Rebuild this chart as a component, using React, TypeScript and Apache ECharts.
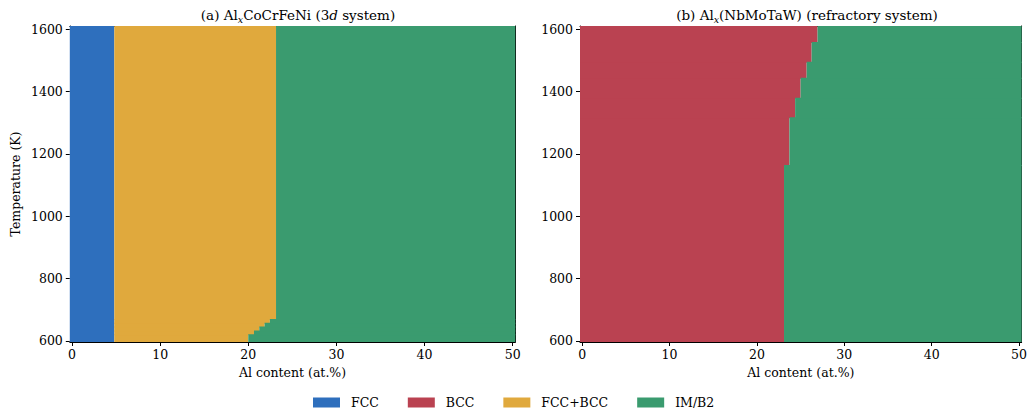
import React, { useEffect, useRef } from "react";
import * as echarts from "echarts";

// ---- data ----
const phases = ["FCC", "BCC", "FCC+BCC", "IM/B2"];
const phaseColors = ["#2E6FBD", "#BA4251", "#E0A93D", "#3A9B6F"];

// Composition and temperature cell edges
const AL_MIN = -0.25;
const AL_MAX = 50.3;
const T_MIN = 596;
const T_MAX = 1610;

// (a) AlxCoCrFeNi: FCC / FCC+BCC boundary (constant), FCC+BCC / IM boundary per temperature band
const leftFccLimit = 4.8;
const leftBandLowerT = [596, 621, 633, 646, 658, 670];
const leftBandBoundary = [20.0, 20.65, 21.25, 21.85, 22.45, 23.15];

// (b) Alx(NbMoTaW): BCC / IM boundary per temperature band
const rightBandLowerT = [596, 1164, 1317, 1380, 1444, 1495, 1559];
const rightBandBoundary = [23.1, 23.72, 24.37, 25.0, 25.69, 26.26, 26.94];

const xTicks = [0, 10, 20, 30, 40, 50];
const yTicks = [600, 800, 1000, 1200, 1400, 1600];

function bands(lowers: number[], bounds: number[]) {
  return lowers.map((lo, i) => ({
    lo,
    hi: i + 1 < lowers.length ? lowers[i + 1] : T_MAX,
    x: bounds[i],
  }));
}

const FONT = "DejaVu Serif";
const TICK_SIZE = 12.5;
const TITLE_SIZE = 13.5;

export default function App() {
  const ref = useRef<HTMLDivElement>(null);
  useEffect(() => {
    if (!ref.current) return;
    const chart = echarts.init(ref.current, null, { renderer: "svg" });

    const lb = bands(leftBandLowerT, leftBandBoundary);
    const rb = bands(rightBandLowerT, rightBandBoundary);

    const leftFcc = [[AL_MIN, leftFccLimit, T_MIN, T_MAX]];
    const leftMix = lb.map((b) => [leftFccLimit, b.x, b.lo, b.hi]);
    const leftIm = lb.map((b) => [b.x, AL_MAX, b.lo, b.hi]);
    const rightBcc = rb.map((b) => [AL_MIN, b.x, b.lo, b.hi]);
    const rightIm = rb.map((b) => [b.x, AL_MAX, b.lo, b.hi]);

    const renderItem = (params: any, api: any) => {
      const p0 = api.coord([api.value(0), api.value(3)]);
      const p1 = api.coord([api.value(1), api.value(2)]);
      const color = api.visual("color");
      // extend 1px downward so stacked bands of the same phase leave no seam
      return {
        type: "rect",
        shape: { x: p0[0], y: p0[1], width: p1[0] - p0[0], height: p1[1] - p0[1] + 1 },
        style: { fill: color, stroke: "none" },
      };
    };

    const mkSeries = (name: string, data: number[][], idx: number) => ({
      type: "custom",
      name,
      xAxisIndex: idx,
      yAxisIndex: idx,
      data,
      renderItem,
      clip: true,
      color: phaseColors[phases.indexOf(name)],
      itemStyle: { color: phaseColors[phases.indexOf(name)] },
      encode: { x: [0, 1], y: [2, 3] },
    });

    const axisText = { color: "#000", fontFamily: FONT, fontSize: TICK_SIZE };
    const plain = (v: number) => String(v);

    const mainX = (gridIndex: number) => ({
      type: "value",
      gridIndex,
      min: AL_MIN,
      max: AL_MAX,
      name: "Al content (at.%)",
      nameLocation: "middle",
      nameGap: 24,
      nameTextStyle: { ...axisText },
      axisLine: { show: true, onZero: false, lineStyle: { color: "#000", width: 1 } },
      axisTick: { show: true, length: 4, customValues: xTicks, lineStyle: { color: "#000" } },
      axisLabel: { ...axisText, margin: 6, customValues: xTicks, formatter: plain },
      splitLine: { show: false },
    });
    const mainY = (gridIndex: number, named: boolean) => ({
      type: "value",
      gridIndex,
      min: T_MIN,
      max: T_MAX,
      name: named ? "Temperature (K)" : "",
      nameLocation: "middle",
      nameGap: 48,
      nameTextStyle: { ...axisText },
      axisLine: { show: true, onZero: false, lineStyle: { color: "#000", width: 1 } },
      axisTick: { show: true, length: 4, customValues: yTicks, lineStyle: { color: "#000" } },
      axisLabel: { ...axisText, margin: 7, customValues: yTicks, formatter: plain },
      splitLine: { show: false },
    });
    const frameX = (gridIndex: number) => ({
      type: "value",
      gridIndex,
      position: "top",
      min: AL_MIN,
      max: AL_MAX,
      axisLine: { show: true, onZero: false, lineStyle: { color: "#000", width: 1 } },
      axisTick: { show: false },
      axisLabel: { show: false },
      splitLine: { show: false },
    });
    const frameY = (gridIndex: number) => ({
      type: "value",
      gridIndex,
      position: "right",
      min: T_MIN,
      max: T_MAX,
      axisLine: { show: true, onZero: false, lineStyle: { color: "#000", width: 1 } },
      axisTick: { show: false },
      axisLabel: { show: false },
      splitLine: { show: false },
    });

    const titleRich = {
      sub: { fontFamily: FONT, fontSize: 9.5, fontStyle: "italic", color: "#000", padding: [8, 0, 0, 0] },
      it: { fontFamily: FONT, fontSize: TITLE_SIZE, fontStyle: "italic", color: "#000" },
    };
    const titleStyle = {
      fontFamily: FONT,
      fontSize: TITLE_SIZE,
      fontWeight: "normal",
      color: "#000",
      rich: titleRich,
    };

    chart.setOption({
      animation: false,
      textStyle: { fontFamily: FONT },
      title: [
        {
          text: "(a) Al{sub|x}CoCrFeNi (3{it|d} system)",
          left: 293,
          top: 1,
          textAlign: "center",
          textStyle: titleStyle,
        },
        {
          text: "(b) Al{sub|x}(NbMoTaW) (refractory system)",
          left: 802,
          top: 1,
          textAlign: "center",
          textStyle: titleStyle,
        },
      ],
      legend: {
        data: phases,
        left: 308,
        top: 391,
        icon: "rect",
        itemWidth: 27,
        itemHeight: 10,
        itemGap: 29,
        textStyle: { fontFamily: FONT, fontSize: TICK_SIZE, color: "#000", padding: [0, 0, 0, 6] },
        selectedMode: false,
      },
      grid: [
        { left: 69.8, top: 26, width: 445.5, height: 316 },
        { left: 580, top: 26, width: 445.5, height: 316 },
      ],
      xAxis: [mainX(0), mainX(1), frameX(0), frameX(1)],
      yAxis: [mainY(0, true), mainY(1, false), frameY(0), frameY(1)],
      series: [
        mkSeries("FCC", leftFcc, 0),
        mkSeries("FCC+BCC", leftMix, 0),
        mkSeries("IM/B2", leftIm, 0),
        mkSeries("BCC", rightBcc, 1),
        mkSeries("IM/B2", rightIm, 1),
      ],
    });
    return () => chart.dispose();
  }, []);
  return (
    <div
      ref={ref}
      style={{ position: "fixed", left: 0, top: 0, width: 1030, height: 409, background: "#fff" }}
    />
  );
}
